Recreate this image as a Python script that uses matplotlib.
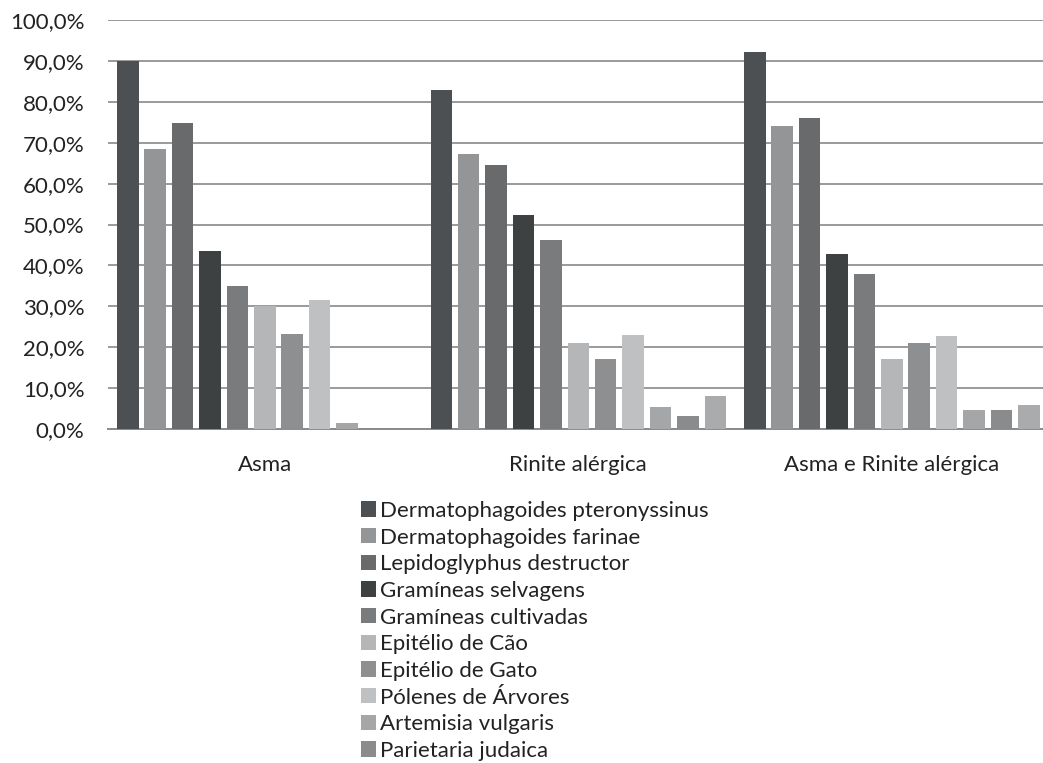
import numpy as np
import matplotlib.pyplot as plt
from matplotlib.ticker import FuncFormatter

plt.rcParams['font.family'] = ['Lato', 'DejaVu Sans']

grupos = ['Asma', 'Rinite alérgica', 'Asma e Rinite alérgica']

alergenos = [
    'Dermatophagoides pteronyssinus',
    'Dermatophagoides farinae',
    'Lepidoglyphus destructor',
    'Gramíneas selvagens',
    'Gramíneas cultivadas',
    'Epitélio de Cão',
    'Epitélio de Gato',
    'Pólenes de Árvores',
    'Artemisia vulgaris',
    'Parietaria judaica',
    'Outros',
]

# percentagens por grupo (Asma, Rinite, Asma e Rinite)
dpt = [90.0, 83.0, 92.1]
dfa = [68.4, 67.2, 74.1]
lde = [74.9, 64.6, 76.1]
gse = [43.4, 52.3, 42.8]
gcu = [35.0, 46.2, 37.9]
eca = [30.1, 21.0, 17.0]
ega = [23.2, 17.0, 21.0]
par = [31.6, 23.0, 22.7]
avu = [1.5, 5.5, 4.6]
pju = [0.0, 3.3, 4.6]
out = [0.0, 8.1, 5.8]

series = [dpt, dfa, lde, gse, gcu, eca, ega, par, avu, pju, out]

cores = ['#4d5052', '#939597', '#686a6b', '#3e4142', '#7a7b7d', '#b4b6b7',
         '#8e8f91', '#bfc0c1', '#a4a6a7', '#8a8b8d', '#a9abac']

fig = plt.figure(figsize=(10.43, 7.63), dpi=100)
ax = fig.add_axes([108 / 1043, 1 - 429 / 763, 1 - 108 / 1043, (429 - 20) / 763])

x = np.arange(len(grupos))
passo = 27.4 / 313.5
larg = 21.5 / 313.5
n = len(series)
barras = []
for j, (vals, cor) in enumerate(zip(series, cores)):
    pos = x + (j - (n - 1) / 2) * passo
    b = ax.bar(pos, vals, width=larg, color=cor, zorder=3, label=alergenos[j])
    barras.append(b)

ax.set_ylim(0, 100)
ax.set_xlim(-0.5, -0.5 + (1043 - 108) / 313.5)
ax.set_yticks(np.arange(0, 101, 10))
ax.yaxis.set_major_formatter(FuncFormatter(lambda v, p: f'{v:.1f}'.replace('.', ',') + '%'))
ax.grid(axis='y', color='#9a9a9a', linewidth=1.4, zorder=0)
for s in ['top', 'right', 'left']:
    ax.spines[s].set_visible(False)
ax.spines['bottom'].set_color('#8a8a8a')
ax.spines['bottom'].set_linewidth(1.4)
ax.tick_params(axis='y', length=0, pad=17, labelsize=16, labelcolor='#222222')
ax.tick_params(axis='x', length=0, pad=19, labelsize=16, labelcolor='#222222')
ax.set_xticks(x)
ax.set_xticklabels(grupos)

# legenda (so os dez primeiros aparecem)
leg = fig.legend(barras[:10], alergenos[:10], loc='upper left',
                 bbox_to_anchor=(352 / 1043, 1 - 492 / 763), frameon=False,
                 fontsize=16, handlelength=0.68, handleheight=0.68,
                 handletextpad=0.2, labelspacing=0.3, borderaxespad=0)
for t in leg.get_texts():
    t.set_color('#222222')

fig.savefig('out.png', dpi=100, facecolor='white')
